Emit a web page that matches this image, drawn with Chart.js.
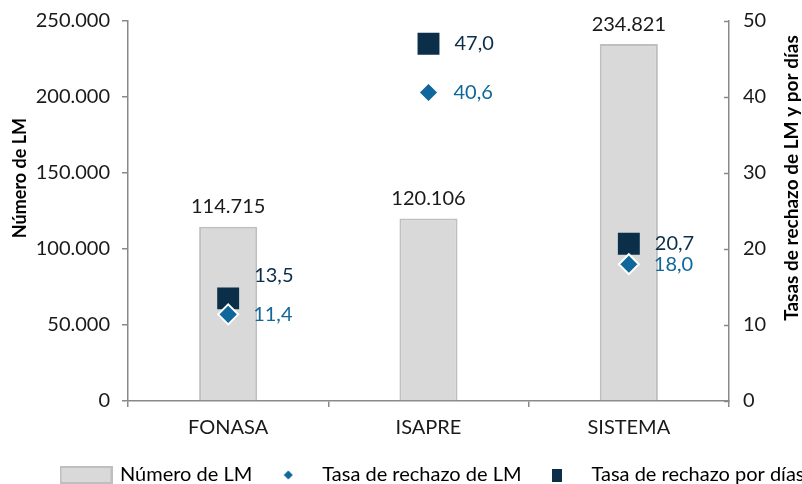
<!DOCTYPE html>
<html>
<head>
<meta charset="utf-8">
<script src="https://cdn.jsdelivr.net/npm/chart.js@4.4.1/dist/chart.umd.min.js"></script>
<style>
  html, body { margin: 0; padding: 0; background: #fff; }
  #wrap { width: 802px; height: 484px; }
</style>
</head>
<body>
<div id="wrap"><canvas id="lmChart" width="802" height="484"></canvas></div>
<script>
// Data
const categories = ['FONASA', 'ISAPRE', 'SISTEMA'];
const numeroLM = [114715, 120106, 234821];
const tasaRechazoLM = [11.4, 40.6, 18.0];
const tasaRechazoDias = [13.5, 47.0, 20.7];

const FONT = 'Lato';
const NAVY = '#0b2f48';
const BLUE = '#0f679b';
const AXIS = '#898989';
const TEXT = '#1a1a1a';

// label nudges (px), FONASA square label sits higher in the original
const squareLabelLift = [-23, 0, 0];

function fmtMiles(v) {
    return String(Math.round(v)).replace(/\B(?=(\d{3})+(?!\d))/g, '.');
}
function fmtDec(v) {
    return v.toFixed(1).replace('.', ',');
}

// small canvases used as legend symbols
function makeSwatch(w, h, draw) {
    const c = document.createElement('canvas');
    c.width = w;
    c.height = h;
    draw(c.getContext('2d'));
    return c;
}
const barSwatch = makeSwatch(53, 18, (g) => {
    g.fillStyle = '#d9d9d9';
    g.fillRect(0, 0, 53, 18);
    g.strokeStyle = '#bfbfbf';
    g.lineWidth = 2;
    g.strokeRect(1, 1, 51, 16);
});
const diamondSwatch = makeSwatch(10, 10, (g) => {
    g.fillStyle = BLUE;
    g.beginPath();
    g.moveTo(5, 0.5); g.lineTo(9.5, 5); g.lineTo(5, 9.5); g.lineTo(0.5, 5);
    g.closePath();
    g.fill();
});
const squareSwatch = makeSwatch(10, 13, (g) => {
    g.fillStyle = NAVY;
    g.fillRect(0, 0, 10, 13);
});
const legendSymbols = [barSwatch, diamondSwatch, squareSwatch];

// legend sits a bit right and low in the original (it runs off the right edge)
const legendShift = {
    id: 'legendShift',
    afterLayout(chart) {
        const lg = chart.legend;
        lg.left += 50; lg.right += 50;
        lg.top += 4; lg.bottom += 4;
    }
};

// value labels, axis titles and inward ticks on the right axis
const valueLabels = {
    id: 'valueLabels',
    afterDatasetsDraw(chart) {
        const ctx = chart.ctx;
        const area = chart.chartArea;
        ctx.save();
        ctx.font = '20px ' + FONT;

        // bar labels
        ctx.fillStyle = TEXT;
        ctx.textAlign = 'center';
        ctx.textBaseline = 'middle';
        chart.getDatasetMeta(0).data.forEach((bar, i) => {
            ctx.fillText(fmtMiles(numeroLM[i]), bar.x, bar.y - 20);
        });

        // marker labels
        ctx.textAlign = 'left';
        ctx.fillStyle = NAVY;
        chart.getDatasetMeta(2).data.forEach((pt, i) => {
            ctx.fillText(fmtDec(tasaRechazoDias[i]), pt.x + 26, pt.y + squareLabelLift[i]);
        });
        ctx.fillStyle = BLUE;
        chart.getDatasetMeta(1).data.forEach((pt, i) => {
            ctx.fillText(fmtDec(tasaRechazoLM[i]), pt.x + 25, pt.y);
        });

        // right axis ticks point into the plot
        const y1 = chart.scales.y1;
        ctx.strokeStyle = AXIS;
        ctx.lineWidth = 1.5;
        y1.ticks.forEach((t) => {
            const py = Math.round(y1.getPixelForValue(t.value)) + 0.5;
            ctx.beginPath();
            ctx.moveTo(y1.left - 5, py);
            ctx.lineTo(y1.left, py);
            ctx.stroke();
        });

        // axis titles, both read bottom to top
        const midY = (area.top + area.bottom) / 2 - 33;
        ctx.fillStyle = '#000';
        ctx.textAlign = 'center';
        ctx.font = 'bold 18px ' + FONT;
        ctx.save();
        ctx.translate(20, midY);
        ctx.rotate(-Math.PI / 2);
        ctx.fillText('Número de LM', 0, 0);
        ctx.restore();
        ctx.font = 'bold 19px ' + FONT;
        ctx.save();
        ctx.translate(792, midY);
        ctx.rotate(-Math.PI / 2);
        ctx.fillText('Tasas de rechazo de LM y por días', 0, 0);
        ctx.restore();

        ctx.restore();
    }
};

const ctx = document.getElementById('lmChart').getContext('2d');
const lmChart = new Chart(ctx, {
    type: 'bar',
    data: {
        labels: categories,
        datasets: [
            {
                label: 'Número de LM',
                data: numeroLM,
                backgroundColor: '#d9d9d9',
                borderColor: '#bfbfbf',
                borderWidth: 2,
                borderSkipped: 'bottom',
                barPercentage: 0.29,
                categoryPercentage: 1,
                yAxisID: 'y',
                order: 3
            },
            {
                type: 'line',
                label: 'Tasa de rechazo de LM',
                data: tasaRechazoLM,
                showLine: false,
                pointStyle: 'rectRot',
                pointRadius: 10,
                pointHoverRadius: 10,
                pointBackgroundColor: BLUE,
                pointBorderColor: '#ffffff',
                pointBorderWidth: 2,
                yAxisID: 'y1',
                order: 1
            },
            {
                type: 'line',
                label: 'Tasa de rechazo por días',
                data: tasaRechazoDias,
                showLine: false,
                pointStyle: 'rect',
                pointRadius: 15.5,
                pointHoverRadius: 15.5,
                pointBackgroundColor: NAVY,
                pointBorderColor: NAVY,
                pointBorderWidth: 0,
                yAxisID: 'y1',
                order: 2
            }
        ]
    },
    options: {
        responsive: false,
        animation: false,
        layout: {
            padding: { top: 21, left: 0, right: 0, bottom: -7 }
        },
        plugins: {
            tooltip: { enabled: false },
            legend: {
                position: 'bottom',
                align: 'start',
                labels: {
                    font: { family: FONT, size: 20 },
                    color: TEXT,
                    usePointStyle: true,
                    pointStyleWidth: 48,
                    padding: 12,
                    sort: (a, b) => a.datasetIndex - b.datasetIndex,
                    generateLabels: (chart) => chart.data.datasets.map((ds, i) => ({
                        text: ds.label,
                        pointStyle: legendSymbols[i],
                        datasetIndex: i,
                        fillStyle: 'transparent',
                        strokeStyle: 'transparent',
                        lineWidth: 0,
                        hidden: false
                    }))
                }
            }
        },
        scales: {
            x: {
                grid: {
                    offset: true,
                    drawOnChartArea: false,
                    color: AXIS,
                    lineWidth: 1.5,
                    tickLength: 6
                },
                border: { color: AXIS, width: 1.5 },
                ticks: {
                    font: { family: FONT, size: 20 },
                    color: TEXT,
                    padding: 9
                }
            },
            y: {
                position: 'left',
                min: 0,
                max: 250000,
                afterFit: (scale) => { scale.width = 128; scale.paddingTop = 0; },
                ticks: {
                    stepSize: 50000,
                    font: { family: FONT, size: 20 },
                    color: TEXT,
                    padding: 12,
                    callback: (v) => fmtMiles(v)
                },
                grid: {
                    drawOnChartArea: false,
                    color: AXIS,
                    lineWidth: 1.5,
                    tickLength: 6
                },
                border: { color: AXIS, width: 1.5 }
            },
            y1: {
                position: 'right',
                min: 0,
                max: 50,
                afterFit: (scale) => { scale.width = 73; scale.paddingTop = 0; },
                ticks: {
                    stepSize: 10,
                    font: { family: FONT, size: 20 },
                    color: TEXT,
                    padding: 14
                },
                grid: {
                    drawOnChartArea: false,
                    drawTicks: false
                },
                border: { color: AXIS, width: 1.5 }
            }
        }
    },
    plugins: [legendShift, valueLabels]
});
</script>
</body>
</html>
